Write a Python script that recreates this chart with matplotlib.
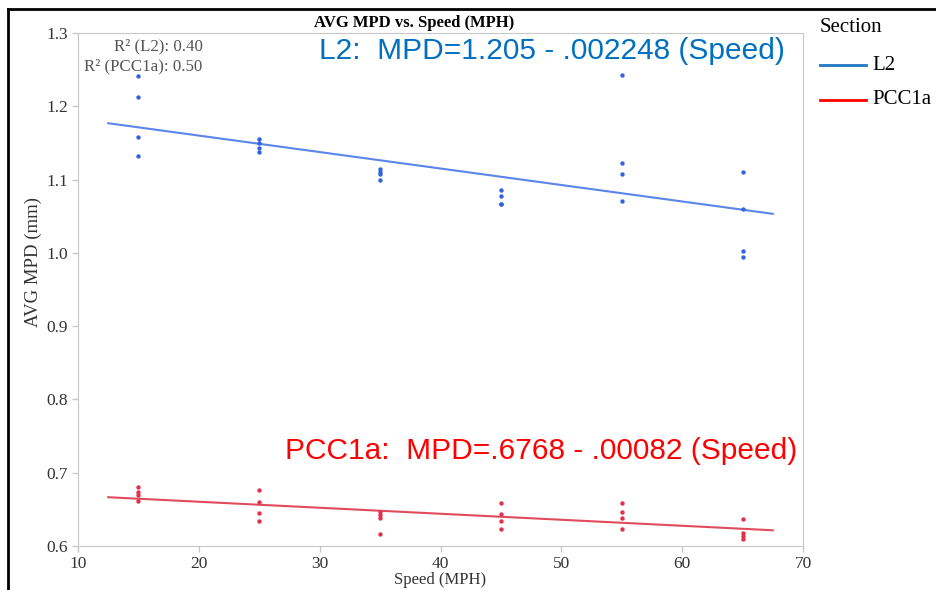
import numpy as np
import matplotlib
matplotlib.use("Agg")
import matplotlib.pyplot as plt
from matplotlib.lines import Line2D

speeds = [15, 25, 35, 45, 55, 65]

# AVG MPD readings per speed, section L2
l2_15 = [1.241, 1.213, 1.158, 1.132]
l2_25 = [1.156, 1.150, 1.143, 1.137]
l2_35 = [1.114, 1.111, 1.108, 1.099]
l2_45 = [1.086, 1.078, 1.067, 1.066]
l2_55 = [1.243, 1.123, 1.108, 1.071]
l2_65 = [1.110, 1.060, 1.002, 0.995]

# section PCC1a
pcc_15 = [0.680, 0.674, 0.670, 0.662]
pcc_25 = [0.677, 0.660, 0.645, 0.634]
pcc_35 = [0.646, 0.642, 0.638, 0.617]
pcc_45 = [0.658, 0.644, 0.634, 0.623]
pcc_55 = [0.659, 0.646, 0.638, 0.623]
pcc_65 = [0.637, 0.618, 0.614, 0.609]

l2_fit = (1.205, -0.002248)
pcc_fit = (0.6768, -0.00082)
fit_range = (12.5, 67.5)

sections = ["L2", "PCC1a"]
legend_colors = ["#1f77c8", "#ff0000"]

serif = ["Liberation Serif", "DejaVu Serif"]
sans = ["Liberation Sans", "DejaVu Sans"]

fig = plt.figure(figsize=(9.36, 5.9), dpi=100)
W, H = 936, 590
ax = fig.add_axes([78 / W, (H - 546) / H, (803 - 78) / W, (546 - 33) / H])

l2_vals = [l2_15, l2_25, l2_35, l2_45, l2_55, l2_65]
pcc_vals = [pcc_15, pcc_25, pcc_35, pcc_45, pcc_55, pcc_65]
for s, ys in zip(speeds, l2_vals):
    ax.scatter([s] * len(ys), ys, s=10, color="#3362e0", zorder=3, linewidths=0)
for s, ys in zip(speeds, pcc_vals):
    ax.scatter([s] * len(ys), ys, s=10, color="#e0304a", zorder=3, linewidths=0)

xf = np.array(fit_range)
ax.plot(xf, l2_fit[0] + l2_fit[1] * xf, color="#5b85ea", lw=1.5)
ax.plot(xf, pcc_fit[0] + pcc_fit[1] * xf, color="#e04c5e", lw=1.5)

ax.set_xlim(10, 70)
ax.set_ylim(0.6, 1.3)
ax.set_xticks([10, 20, 30, 40, 50, 60, 70])
ax.set_yticks(np.arange(0.6, 1.31, 0.1))
ax.set_yticklabels([f"{v:.1f}" for v in np.arange(0.6, 1.31, 0.1)])
for sp in ax.spines.values():
    sp.set_color("#c8c8c8")
ax.tick_params(colors="#c8c8c8", length=4, width=1, labelcolor="#333333", pad=3)
for lab in ax.get_xticklabels() + ax.get_yticklabels():
    lab.set_family(serif)
    lab.set_fontsize(12.5)

ax.set_xlabel("Speed (MPH)", family=serif, fontsize=12, color="#333333", labelpad=0)
ax.set_ylabel("AVG MPD (mm)", family=serif, fontsize=13.5, color="#333333")
ax.yaxis.set_label_coords(-0.049, 0.554)
fig.text(414 / W, 1 - 23 / H, "AVG MPD vs. Speed (MPH)", family=serif, fontsize=12,
         fontweight="bold", ha="center", va="center")

ax.text(0.172, 0.973, "R\u00b2 (L2): 0.40", transform=ax.transAxes, ha="right", va="center",
        family=serif, fontsize=12.2, color="#555555")
ax.text(0.172, 0.934, "R\u00b2 (PCC1a): 0.50", transform=ax.transAxes, ha="right", va="center",
        family=serif, fontsize=12.2, color="#555555")

ax.text(785 / W, 1 - 51 / H, "L2:  MPD=1.205 - .002248 (Speed)", transform=fig.transFigure,
        ha="right", va="center", family=sans, fontsize=21.5, color="#0070c0")
ax.text(797 / W, 1 - 451 / H, "PCC1a:  MPD=.6768 - .00082 (Speed)", transform=fig.transFigure,
        ha="right", va="center", family=sans, fontsize=21.5, color="#ff0000")

# legend, placed outside the axes on the right
fig.text(820 / W, 1 - 27 / H, "Section", family=serif, fontsize=15, ha="left", va="center")
for i, (name, col) in enumerate(zip(sections, legend_colors)):
    yy = 1 - (65 + 35 * i) / H
    fig.add_artist(Line2D([820 / W, 866 / W], [yy, yy], color=col, lw=2, transform=fig.transFigure))
    fig.text(872 / W, yy, name, family=serif, fontsize=15, ha="left", va="center")

# black frame on left and top edges
fig.add_artist(Line2D([8 / W, 8 / W], [0, 1 - 9 / H], color="black", lw=2, transform=fig.transFigure))
fig.add_artist(Line2D([8 / W, 1], [1 - 9 / H, 1 - 9 / H], color="black", lw=2, transform=fig.transFigure))

fig.savefig("out.png", dpi=100)
